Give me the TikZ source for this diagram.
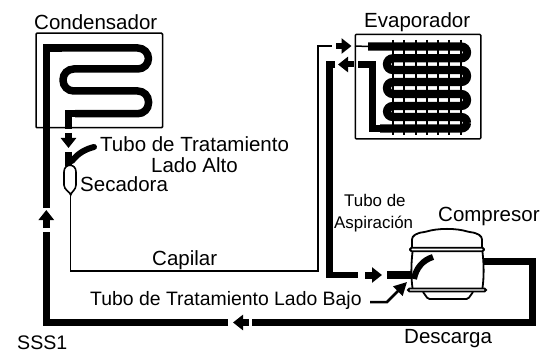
\documentclass[tikz,border=0pt]{standalone}
\usepackage{fontspec}
\setmainfont{Liberation Sans}
\usetikzlibrary{arrows.meta}

\tikzset{
  txt/.style={anchor=base west, inner sep=0pt, font=\fontsize{20.5}{24}\selectfont},
  box/.style={draw, line width=1.5pt, rounded corners=1pt, inner sep=0pt, outer sep=0pt},
  tube/.style={line width=7.5pt},
  thin tube/.style={line width=1.5pt},
  flow/.style={line width=7pt, -{Triangle[width=15pt,length=10pt]}},
  part/.style={draw, line width=1.8pt, fill=white, rounded corners=1.5pt}
}

\begin{document}
\begin{tikzpicture}[x=1pt, y=-1pt]

   \useasboundingbox (0,0) rectangle (541,350);

   \node [box, minimum width=126.5pt, minimum height=94.5pt] (cond) at (99.3,80.5) {};
   \node [box, minimum width=125.5pt, minimum height=104.5pt] (evap) at (418,86.6) {};

   \foreach \x/\y/\t in {34/29.5/Condensador, 364/27.5/Evaporador, 100/152/Tubo de Tratamiento,
        151/172/Lado Alto, 80/192/Secadora, 152/265/Capilar, 438/222/Compresor, 404/343/Descarga}
     \node [txt] (t\x) at (\x,\y) {\t};
   \node [txt, font=\fontsize{19.4}{24}\selectfont] (bajo) at (90,305) {Tubo de Tratamiento Lado Bajo};
   \node [txt, font=\fontsize{19.6}{24}\selectfont] (sss) at (17,349) {SSS1};
   \node [txt, font=\fontsize{16.9}{20}\selectfont] (asp1) at (344,207) {Tubo de};
   \node [txt, font=\fontsize{16.9}{20}\selectfont] (asp2) at (334,228) {Aspiración};

   \foreach \n/\x/\y in {a/46.3/48, a2/62/48, b/46.3/208, c/46.3/232, d/46.3/322.5, e/228/322.5, f/252/322.5,
        g/532.5/322.5, h/532.5/261.7, i/484/261.7, j/68.5/129, k/70.7/195, l/70.7/271, m/318/271,
        n/318/46, o/332/46, p/355/46, q/368/46.5, r/358/64.5, s/329.7/64.5, u/329.7/275,
        v/358/275, w/387/275, y/412/275, z/335/64.5}
     \coordinate (\n) at (\x,\y);

   % condensador
   \draw [tube, line join=miter] (b) -- (a) -- (a2);
   \draw [tube, rounded corners=10.7pt] (a2) -- (148.5,48) -- (148.5,69) -- (63,69)
        -- (63,91) -- (148.5,91) -- (148.5,113.7) -- (75,113.7);
   \draw [tube, line join=miter] (76,113.7) -- (68.5,113.7) -- (j);
   \draw [flow] (68.5,133) -- (68.5,148);

   % secadora
   \draw [tube] (68.5,152) -- (68.5,166);
   \draw [line width=6pt, line cap=round] (72,161) .. controls (78,153) and (86,149) .. (94,147);
   \draw [line width=1.6pt] (64,172) .. controls (64,163) and (76,163) .. (76,172) -- (76,185)
        .. controls (76,190) and (71,192) .. (70.7,195) .. controls (70.4,192) and (64,190) .. (64,185) -- cycle;
   \draw [thin tube, line join=miter] (k) -- (l) -- (m) -- (n) -- (o);
   \draw [flow, line width=6pt] (336,46) -- (351.5,46);
   \draw [thin tube] (p) -- (q);

   % evaporador
   \foreach \x in {392.7, 404, 415.7, 426.7, 437.7, 449, 460.7}
     \draw [line width=1.8pt] (\x,40) -- (\x,135);
   \draw [line width=8.2pt, rounded corners=5.8pt] (q) -- (467,46.5) -- (467,58.3) -- (387,58.3) -- (387,70)
        -- (467,70) -- (467,82) -- (387,82) -- (387,94) -- (467,94) -- (467,106) -- (387,106)
        -- (387,117) -- (467,117) -- (467,128.5) -- (380,128.5);
   \draw [tube, line join=miter] (381,128.5) -- (372.5,128.5) -- (372.5,64.5) -- (r);
   \draw [flow, line width=6pt] (353.5,64.5) -- (338,64.5);
   \draw [line width=6.5pt, line join=miter] (z) -- (s) -- (u) -- (v);
   \draw [flow] (365,275) -- (382,275);
   \draw [tube] (w) -- (y);

   % compresor
   \draw [part] (412,247) -- (412,241) .. controls (412,236) and (416,233) .. (425,232)
        .. controls (438,228) and (456,228) .. (469,232) .. controls (478,233) and (482,236) .. (482,241) -- (482,247);
   \draw [line width=1.8pt] (412.5,252) .. controls (411,265) and (411,277) .. (412.5,288);
   \draw [line width=1.8pt] (482.5,252) .. controls (484,265) and (484,277) .. (482.5,288);
   \draw [part] (423,292) -- (428,299) -- (468,299) -- (473,292);
   \node [part, minimum width=74pt, minimum height=3.5pt, inner sep=0pt] (band) at (447,249.5) {};
   \node [part, minimum width=78pt, minimum height=3pt, inner sep=0pt] (plate) at (447,290) {};
   \draw [line width=6pt] (414,279) .. controls (416,268) and (423,260) .. (433,257);

   % descarga
   \draw [tube, line join=miter] (i) -- (h) -- (g) -- (f);
   \draw [flow] (249,322.5) -- (233,322.5);
   \draw [tube, line join=miter] (e) -- (d) -- (c);
   \draw [flow] (46.3,228) -- (46.3,210);

   \draw [line width=2.5pt, -{Triangle[width=13pt,length=13pt]}] (370,302) -- (387,302) -- (407,282);

\end{tikzpicture}
\end{document}
